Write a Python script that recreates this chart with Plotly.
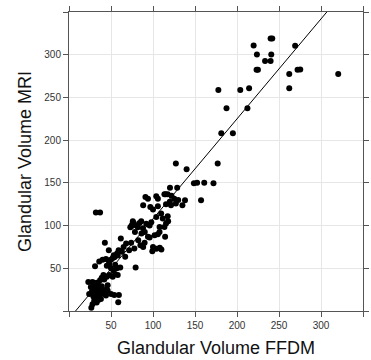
import plotly.graph_objects as go

# FFDM (x) and MRI (y) glandular volumes
ffdm = [
    # lower cluster
    26.6, 28, 33, 30, 35, 38, 29, 33, 37, 42, 24, 27, 31, 36, 40, 28, 33, 38, 44, 26,
    30, 35, 39, 46, 23, 28, 33, 37, 42, 45, 39, 48, 52, 41, 55, 58, 53, 50, 57, 61,
    45, 48, 55, 31, 36, 40, 44, 47, 50, 52, 54, 58, 53.9, 59.4, 58.6, 50, 46, 44,
    # middle
    42.7, 47.4, 53.3, 57.2, 59.1, 63, 66.9, 61.7, 71.6, 77.8, 79.3, 65, 68, 82.4, 74,
    78.5, 86.3, 90.2, 94, 96, 73, 75, 77, 80, 82, 84, 76, 86, 88, 85, 88.3, 90, 74,
    # upper middle
    91, 94, 103.9, 105.8, 113.6, 115, 117.5, 125.3, 127.2, 135, 138.1, 121.4, 115.5,
    105.8, 96.8, 88.3, 100, 109.7, 103.9, 111.6, 117.5, 115.5, 113.6, 107.8, 107.8,
    114.4, 101.9, 105.8, 99.2, 100, 104, 108, 110, 96, 98, 92, 118, 120, 122, 130,
    120.2, 128.8,
    # outliers near 115
    32, 37,
    # row at 150 and above
    148.7, 152.5, 161.0, 172.0, 157.2, 127.2, 140.0, 177.0,
    181.3, 195.1, 187.5, 212.4, 177.8, 203.9, 214.4, 262.2,
    223.3, 224.9, 262.2, 272.1, 275.3, 320.5, 233.4, 240.0,
    223.7, 240.8, 219.8, 269.2, 240.0, 242.0,
]
mri = [
    3.9, 8, 10, 12, 13, 14, 17, 18, 19, 20, 20, 22, 22, 23, 24, 25, 26, 27, 25, 28,
    29, 30, 29, 30, 34, 34, 33, 36, 37, 40, 39, 42, 40, 42, 43, 42, 47, 50, 50, 51,
    53, 55, 54, 52.5, 58, 60, 61, 59, 60, 62, 63, 65, 18.7, 18.7, 10.1, 20, 24, 18,
    79.8, 71.2, 65.4, 67.3, 71.2, 69.3, 63.4, 85, 71.2, 73.2, 51, 75, 79, 82.9, 80,
    92.6, 90.7, 92.6, 87, 86, 98, 101, 103, 100, 98, 103, 105, 105, 97, 77, 75, 80, 99,
    133.5, 131.5, 134.2, 131.5, 136.6, 136.6, 136.6, 131.5, 125.7, 123.7, 129.6, 123.7, 124.9,
    122.6, 121.8, 123.7, 118.7, 114, 110.1, 108.2, 110.9, 102.3, 98.4, 98.4, 92.6,
    86.8, 88.7, 89.9, 70, 75, 73, 74, 72, 100, 104, 102, 105, 128, 135, 130,
    144.3, 144.3,
    115.2, 115.2,
    149.4, 150.2, 150.2, 149.4, 129.6, 172.7, 166.0, 172.7,
    208.1, 208.1, 237.2, 237.2, 258.7, 258.7, 260.6, 260.6,
    282.4, 282.4, 277.4, 282.4, 282.7, 277.4, 292.5, 292.5,
    300.2, 300.2, 310.7, 310.4, 318.9, 318.9,
]

# regression line y = intercept + slope * x
line_intercept = -9.1
line_slope = 1.17
line_x = [0, 350]
line_y = [line_intercept + line_slope * v for v in line_x]

tick_vals = [0, 50, 100, 150, 200, 250, 300, 350]
tick_text = ["", "50", "100", "150", "200", "250", "300", ""]

fig = go.Figure()
fig.add_trace(go.Scatter(
    x=ffdm, y=mri, mode="markers",
    marker=dict(size=6, color="black", line=dict(width=0)),
    showlegend=False, hoverinfo="skip",
))
fig.add_trace(go.Scatter(
    x=line_x, y=line_y, mode="lines",
    line=dict(color="black", width=1),
    showlegend=False, hoverinfo="skip",
))

axis_common = dict(
    range=[0, 350], tickvals=tick_vals, ticktext=tick_text,
    showgrid=True, gridcolor="#e6e6e6", gridwidth=1,
    zeroline=False, showline=True, linecolor="#555555", linewidth=1,
    mirror="ticks", ticks="outside", ticklen=5, tickcolor="#555555", tickwidth=1,
    tickfont=dict(family="Liberation Sans, Arial, sans-serif", size=10, color="#333333"),
    title_font=dict(family="Liberation Sans, Arial, sans-serif", size=18, color="#111111"),
)

fig.update_layout(
    width=371, height=360,
    margin=dict(l=69, r=2, t=12, b=49),
    paper_bgcolor="white", plot_bgcolor="white",
    xaxis=dict(axis_common, title=dict(text="Glandular Volume FFDM", standoff=11)),
    yaxis=dict(axis_common, title=dict(text="Glandular Volume MRI", standoff=8)),
)

fig.write_html("out.html")
